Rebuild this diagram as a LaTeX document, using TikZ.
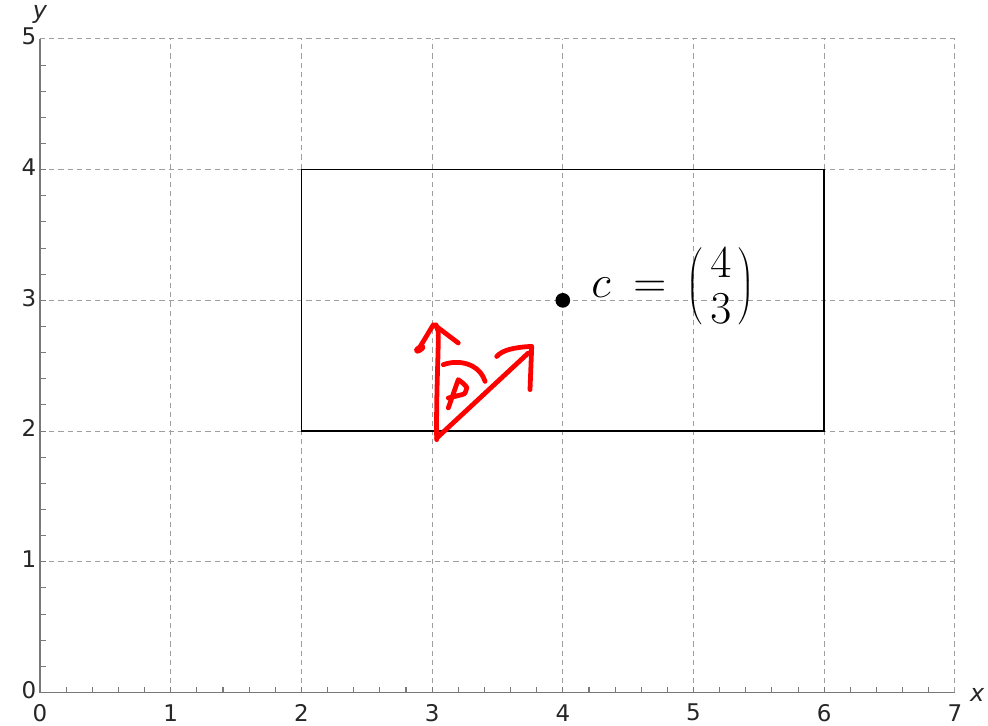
\documentclass[tikz,border=0pt]{standalone}
\usepackage{fontspec}
\newfontfamily\dejavu{DejaVu Sans}
\newcommand\mystk[2]{\vcenter{\baselineskip=25pt\lineskiplimit=-20pt\hbox{$#1$}\hbox{$#2$}}}
\begin{document}
\begin{tikzpicture}[x=2.5cm,y=2.5cm,
  gridline/.style={draw=gray!75, dash pattern=on 2.8pt off 2.2pt, line width=0.55pt},
  axisline/.style={draw=gray!95!black, line width=0.8pt},
  tickmark/.style={draw=gray!95!black, line width=0.6pt},
  ticklbl/.style={font=\dejavu\fontsize{12.5}{14}\selectfont, text=black!85, inner sep=0pt},
  axlbl/.style={font=\dejavu\itshape\fontsize{13}{15}\selectfont, text=black!85, inner sep=0pt},
  scribble/.style={draw=red, line width=2.6pt, line cap=round, line join=round}]
\useasboundingbox (-0.306,-0.252) rectangle (7.253,5.298);
% grid
\foreach \v in {1,...,7} \draw[gridline] (\v,0) -- (\v,5);
\foreach \v in {1,...,5} \draw[gridline] (0,\v) -- (7,\v);
% minor ticks
\foreach \i in {1,...,34} \draw[tickmark] (\i/5,0) -- ++(0,3pt);
\foreach \i in {1,...,24} \draw[tickmark] (0,\i/5) -- ++(3pt,0);
% axes
\draw[axisline] (0,5) -- (0,0) -- (7,0);
% tick labels
\foreach \v in {0,...,7} \node[ticklbl] (xl\v) at (\v,-0.155) {\v};
\foreach \v in {0,...,5} \node[ticklbl, anchor=east] (yl\v) at (-0.025,\v+0.02) {\v};
\node[axlbl] (ylab) at (0.0,5.19) {y};
\node[axlbl] (xlab) at (7.17,-0.02) {x};
% rectangle
\draw[line width=0.8pt] (2,2) rectangle (6,4);
% point
\fill (4,3) circle (4pt);
\node[anchor=west, inner sep=0pt, font=\fontsize{25}{28}\selectfont] (clabel) at (4.215,3.11) {$c\mkern4mu = \mkern3mu\left(\mkern3mu\mystk{4}{3}\mkern3mu\right)$};
% red scribble
\draw[scribble] (3.035,1.934) .. controls (3.03,2.3) and (3.05,2.6) .. (3.047,2.762) -- (3.030,2.813);
\draw[scribble] (2.894,2.622) -- (3.009,2.813) -- (3.047,2.79) -- (3.200,2.674);
\draw[line width=4pt, red, line cap=round] (2.89,2.62) -- (2.92,2.64);
\draw[scribble] (3.035,1.946) -- (3.736,2.597);
\draw[scribble] (3.494,2.571) .. controls (3.54,2.62) and (3.62,2.64) .. (3.762,2.648) -- (3.749,2.317);
\draw[scribble] (3.086,2.508) .. controls (3.20,2.55) and (3.36,2.52) .. (3.405,2.380);
\draw[scribble] (3.124,2.177) -- (3.200,2.393) .. controls (3.25,2.36) and (3.27,2.33) .. (3.265,2.330) .. controls (3.25,2.28) .. (3.226,2.278) -- (3.124,2.253);
\end{tikzpicture}
\end{document}
